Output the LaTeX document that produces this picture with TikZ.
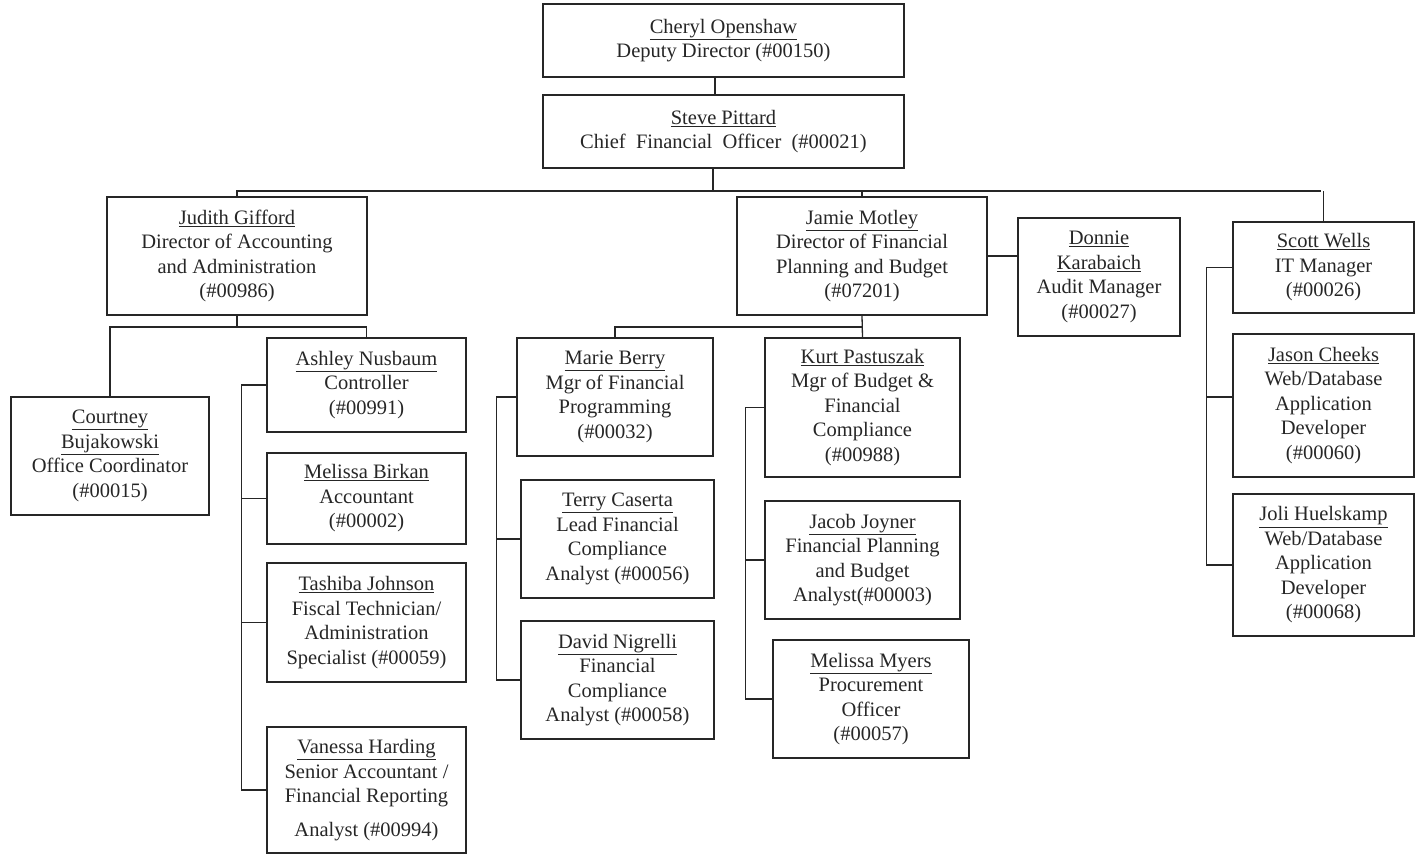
\documentclass[tikz,border=0pt]{standalone}
\usepackage{fontspec}
\setmainfont{Liberation Serif}
\usetikzlibrary{calc}
\begin{document}
\begin{tikzpicture}[x=1pt,y=-1pt,
  box/.style={draw=black!85,line width=1.4pt,rectangle,inner sep=0pt,align=center,
    font=\fontsize{20.5}{24.5}\selectfont,text=black!85},
  link/.style={draw=black!85,line width=1.3pt}]
\useasboundingbox (0,0) rectangle (1416,855);
% top
\node[box,minimum width=361,minimum height=73] (cheryl) at (723.5,40.5)
  {\underline{Cheryl Openshaw}\\Deputy Director (\#00150)};
\node[box,minimum width=361,minimum height=73] (steve) at (723.5,131.5)
  {\underline{Steve Pittard}\\Chief\ \ Financial\ \ Officer\ \ (\#00021)};
% second level
\node[box,minimum width=260,minimum height=118] (judith) at (237,256)
  {\underline{Judith Gifford}\\Director of Accounting\\and Administration\\(\#00986)};
\node[box,minimum width=250,minimum height=118] (jamie) at (862,256)
  {\underline{Jamie Motley}\\Director of Financial\\Planning\ and Budget\\(\#07201)};
\node[box,minimum width=162,minimum height=118] (donnie) at (1099,277)
  {\underline{Donnie}\\\underline{Karabaich}\\Audit Manager\\(\#00027)};
\node[box,minimum width=181,minimum height=91] (scott) at (1323.5,267.5)
  {\underline{Scott Wells}\\IT Manager\\(\#00026)};
\node[box,minimum width=181,minimum height=143] (jason) at (1323.5,405.5)
  {\underline{Jason Cheeks}\\Web/Database\\Application\\Developer\\(\#00060)};
\node[box,minimum width=181,minimum height=142] (joli) at (1323.5,565)
  {\underline{Joli Huelskamp}\\Web/Database\\Application\\Developer\\(\#00068)};
% accounting branch
\node[box,minimum width=198,minimum height=118] (courtney) at (110,456)
  {\underline{Courtney}\\\underline{Bujakowski}\\Office Coordinator\\(\#00015)};
\node[box,minimum width=199,minimum height=94] (ashley) at (366.5,385)
  {\underline{Ashley Nusbaum}\\Controller\\(\#00991)};
\node[box,minimum width=199,minimum height=91] (mbirkan) at (366.5,498.5)
  {\underline{Melissa Birkan}\\Accountant\\(\#00002)};
\node[box,minimum width=199,minimum height=119] (tashiba) at (366.5,622.5)
  {\underline{Tashiba Johnson}\\Fiscal Technician/\\Administration\\Specialist\ (\#00059)};
\node[box,minimum width=199,minimum height=126] (vanessa) at (366.5,790)
  {\underline{Vanessa Harding}\\Senior Accountant /\\Financial\ Reporting\\[9pt]Analyst (\#00994)};
% planning branch
\node[box,minimum width=196,minimum height=118] (marie) at (615,397)
  {\underline{Marie Berry}\\Mgr of Financial\\Programming\\(\#00032)};
\node[box,minimum width=193,minimum height=118] (terry) at (617.5,539)
  {\underline{Terry Caserta}\\Lead Financial\\Compliance\\Analyst (\#00056)};
\node[box,minimum width=193,minimum height=118] (david) at (617.5,680)
  {\underline{David Nigrelli}\\Financial\\Compliance\\Analyst (\#00058)};
\node[box,minimum width=195,minimum height=139] (kurt) at (862.5,407.5)
  {\underline{Kurt Pastuszak}\\Mgr of Budget \&\\Financial\\Compliance\\(\#00988)};
\node[box,minimum width=195,minimum height=118] (jacob) at (862.5,560)
  {\underline{Jacob Joyner}\\Financial\ Planning\\and Budget\\Analyst(\#00003)};
\node[box,minimum width=196,minimum height=118] (mmyers) at (871,699)
  {\underline{Melissa Myers}\\Procurement\\Officer\\(\#00057)};
% connectors
\coordinate (busL) at (236,191);
\coordinate (busR) at (1321,191);
\coordinate (jb) at (237,327);
\coordinate (mb) at (862,327);
\draw[link] ([xshift=-8.5pt]cheryl.south) -- ([xshift=-8.5pt]steve.north);
\draw[link] ([xshift=-10.5pt]steve.south) -- ([xshift=-10.5pt]steve.south |- busL);
\draw[link] (busL) -- (busR);
\draw[link] (judith.north) -- (judith.north |- busL);
\draw[link] (jamie.north) -- (jamie.north |- busL);
\draw[link] (scott.north) -- (scott.north |- busR);
\draw[link] (judith.south) -- (jb);
\draw[link] (courtney.north) |- (jb) -| (ashley.north);
\draw[link] (jamie.south) -- (kurt.north);
\draw[link] (marie.north) |- (mb);
\draw[link] (jamie.east) -- (jamie.east -| donnie.west);
\draw[link] (ashley.west) -- ++(-25,0) |- (vanessa.west);
\draw[link] (mbirkan.west) -- ++(-25,0);
\draw[link] (tashiba.west) -- ++(-25,0);
\draw[link] (marie.west) -- ++(-20,0) |- (david.west);
\draw[link] (terry.west) -- ++(-24,0);
\draw[link] (kurt.west) -- ++(-19,0) |- (mmyers.west);
\draw[link] (jacob.west) -- ++(-19,0);
\draw[link] (scott.west) -- ++(-26,0) |- (joli.west);
\draw[link] ([yshift=8.5pt]jason.west) -- ++(-26,0);
\end{tikzpicture}
\end{document}
